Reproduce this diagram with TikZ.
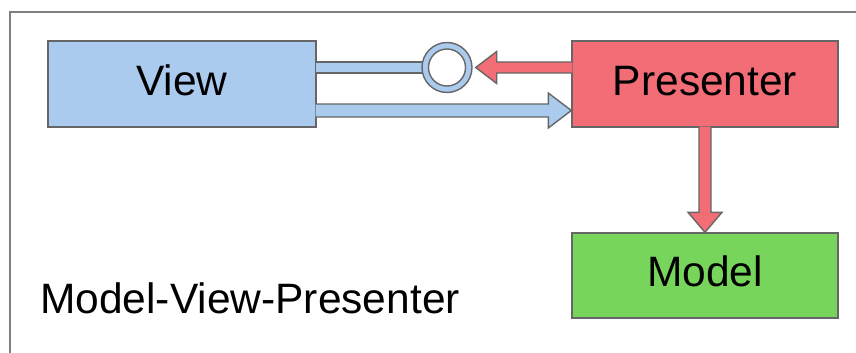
\documentclass[tikz,border=0pt]{standalone}
\usepackage{fontspec}
\setmainfont{Liberation Sans}
\usetikzlibrary{calc}

\definecolor{viewblue}{HTML}{AACAEE}
\definecolor{presred}{HTML}{F26D76}
\definecolor{modelgreen}{HTML}{78D55B}
\definecolor{edgegray}{HTML}{666666}
\definecolor{framegray}{HTML}{808080}

\newcommand\bigfont{\fontsize{42.5}{48}\selectfont}

% Block arrow from #1 to #2: half shaft width #3, half head width #4,
% head length #5, fill colour #6. The base edge is left unstroked so the
% shaft merges into the box it leaves.
\newcommand\fatarrow[6]{%
  \coordinate (fa-base) at ($(#2)!#5!(#1)$);
  \fill[#6] ($(#1)!#3!90:(#2)$) -- ($(fa-base)!#3!90:(#2)$)
    -- ($(fa-base)!#4!90:(#2)$) -- (#2) -- ($(fa-base)!#4!-90:(#2)$)
    -- ($(fa-base)!#3!-90:(#2)$) -- ($(#1)!#3!-90:(#2)$) -- cycle;
  \draw[arrowedge] ($(#1)!#3!90:(#2)$) -- ($(fa-base)!#3!90:(#2)$)
    -- ($(fa-base)!#4!90:(#2)$) -- (#2) -- ($(fa-base)!#4!-90:(#2)$)
    -- ($(fa-base)!#3!-90:(#2)$) -- ($(#1)!#3!-90:(#2)$);
}

\begin{document}
\begin{tikzpicture}[x=1pt, y=-1pt,
  box/.style={draw=edgegray, line width=1.4pt, minimum height=86pt,
    inner sep=0pt, font=\bigfont, text height=30pt, text depth=8pt},
  arrowedge/.style={draw=edgegray, line width=1.4pt, line join=miter},
  ring/.style={circle, draw=edgegray, line width=1.4pt, inner sep=0pt}]

\useasboundingbox (0,0) rectangle (856,353);
\clip (0,0) rectangle (856,353);
\fill[white] (0,0) rectangle (856,353);

% outer frame, cut off at the right and bottom edges
\draw[framegray, line width=2.6pt, line join=miter] (10,370) -- (10,12) -- (870,12);

% components
\node[box, fill=viewblue, minimum width=268pt] (view) at (182,84) {View};
\node[box, fill=presred, minimum width=266pt] (presenter) at (705,84) {Presenter};
\node[box, fill=modelgreen, minimum width=266pt, minimum height=85pt] (model) at (705,275.5) {Model};
\node[anchor=base west, inner sep=0pt, font=\bigfont] (caption) at (40,313) {Model-View-Presenter};

% interface bar from the view to its port
\coordinate (portc) at (447,67.5);
\fill[viewblue] ($(view.east |- portc)+(-1,-5.5)$) rectangle ($(portc)+(0,5.5)$);
\draw[arrowedge] ($(view.east |- portc)+(-0.7,-5.5)$) -- ($(portc)+(0,-5.5)$);
\draw[arrowedge] ($(view.east |- portc)+(-0.7,5.5)$) -- ($(portc)+(0,5.5)$);

% port ring
\node[ring, fill=viewblue, minimum size=50pt] (port) at (portc) {};
\node[ring, fill=white, minimum size=37pt] (socket) at (port.center) {};

% presenter -> port
\coordinate (r0) at ($(presenter.west |- port)+(1,0)$);
\coordinate (r1) at ($(port.east)+(3,0)$);
\fatarrow{r0}{r1}{5.5pt}{16pt}{21pt}{presred}

% view -> presenter
\coordinate (b0) at ($(view.east)+(-1,26.5)$);
\coordinate (b1) at (presenter.west |- b0);
\fatarrow{b0}{b1}{6.5pt}{17.5pt}{23pt}{viewblue}

% presenter -> model
\coordinate (d0) at ($(presenter.south)+(0,-1)$);
\fatarrow{d0}{model.north}{6pt}{17pt}{20pt}{presred}

\end{tikzpicture}
\end{document}
